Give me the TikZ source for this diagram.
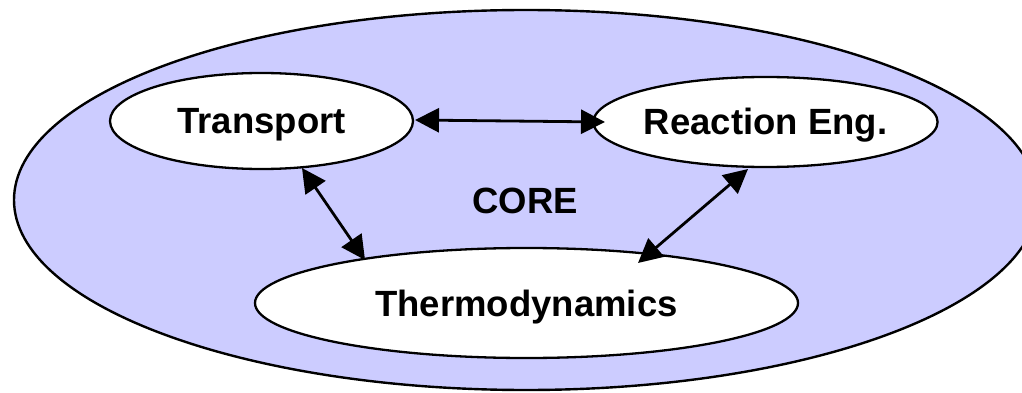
\documentclass[tikz,border=0pt]{standalone}
\usepackage{fontspec}
\setmainfont{Liberation Sans}
\usetikzlibrary{shapes.geometric,arrows.meta,calc}
\definecolor{corefill}{HTML}{CCCCFF}
\tikzset{
  lbl/.style={font=\fontsize{36.5}{42}\selectfont\bfseries},
  topic/.style={lbl, ellipse, draw=black, line width=2.3pt, fill=white, inner sep=0pt, outer sep=0pt,
    text height=26pt, text depth=0pt},
  link/.style={line width=2.8pt, {Triangle[length=24pt,width=24pt]}-{Triangle[length=24pt,width=24pt]}}
}
\begin{document}
\begin{tikzpicture}[x=1pt,y=-1pt]
\useasboundingbox (0,0) rectangle (1022,393);
\clip (0,0) rectangle (1022,393);
\draw[line width=2.4pt, fill=corefill] (526,200) ellipse [x radius=512, y radius=190];
\node[lbl] (core) at (525,201) {CORE};
\node[topic, minimum width=303pt, minimum height=96pt] (tr) at (261.5,121) {Transport};
\node[topic, minimum width=319pt, minimum height=90pt] (re) at (765.5,122) {Reaction Eng.};
\node[topic, minimum width=543pt, minimum height=110pt] (th) at (526.5,303) {Thermodynamics};
\draw[link] ($(tr.center)+(153.5,-1)$) -- ($(re.center)+(-160.5,0)$);
\draw[link] ($(tr.center)+(40.5,47)$) -- ($(th.center)+(-161.5,-43)$);
\draw[link] ($(re.center)+(-17.5,47)$) -- ($(th.center)+(111.5,-40)$);
\end{tikzpicture}
\end{document}
